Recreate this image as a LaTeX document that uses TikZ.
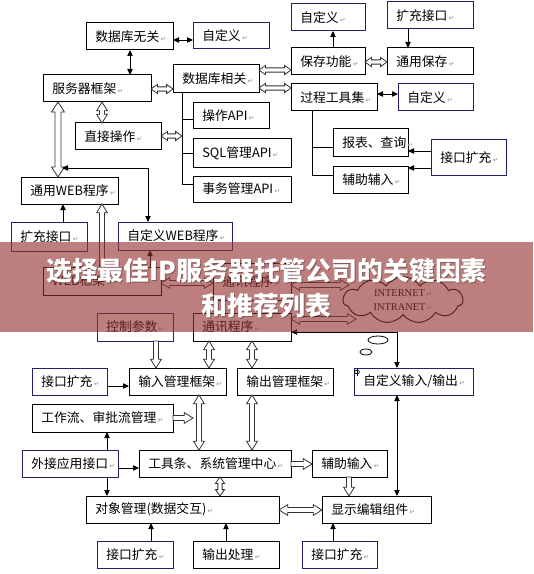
\documentclass[tikz,border=0pt]{standalone}
\usepackage{fontspec}
\setmainfont{Liberation Serif}
\newfontfamily\cjk{Noto Sans CJK SC}
\newfontfamily\dejavu{DejaVu Sans}
\usetikzlibrary{arrows.meta,calc,shapes.symbols}
\definecolor{navy}{RGB}{32,32,112}
\definecolor{band}{RGB}{150,50,48}
\newcommand\rmk{\hspace{1pt}{\dejavu\fontsize{5}{6}\selectfont\color{black!45}↵}}
\newcommand\mkbox[7][]{%
  \pgfmathsetmacro\bw{(#5-#3)*0.75-14}%
  \pgfmathsetmacro\bh{(#6-#4)*0.75}%
  \node[bxs,#1,text width=\bw pt,minimum height=\bh pt,anchor=north west] (#2) at (#3,#4) {\mbox{#7\rmk}};}
\newcommand\hsetS{\def\hs{1.6pt}\def\hh{3.4pt}\def\hl{4.8pt}}
\newcommand\hsetM{\def\hs{1.9pt}\def\hh{4.0pt}\def\hl{6.5pt}}
\newcommand\hsetL{\def\hs{2.3pt}\def\hh{4.8pt}\def\hl{7.5pt}}
\hsetM
\newcommand\hollowBoth[2]{%
  \filldraw[hol] (#1) -- ($(#1)!\hl!(#2)!\hh!90:(#2)$) -- ($(#1)!\hl!(#2)!\hs!90:(#2)$)
   -- ($(#2)!\hl!(#1)!\hs!-90:(#1)$) -- ($(#2)!\hl!(#1)!\hh!-90:(#1)$) -- (#2)
   -- ($(#2)!\hl!(#1)!\hh!90:(#1)$) -- ($(#2)!\hl!(#1)!\hs!90:(#1)$)
   -- ($(#1)!\hl!(#2)!\hs!-90:(#2)$) -- ($(#1)!\hl!(#2)!\hh!-90:(#2)$) -- cycle;}
\newcommand\hollowOne[2]{%
  \filldraw[hol] ($(#1)!\hs!90:(#2)$) -- ($(#2)!\hl!(#1)!\hs!-90:(#1)$)
   -- ($(#2)!\hl!(#1)!\hh!-90:(#1)$) -- (#2) -- ($(#2)!\hl!(#1)!\hh!90:(#1)$)
   -- ($(#2)!\hl!(#1)!\hs!90:(#1)$) -- ($(#1)!\hs!-90:(#2)$) -- cycle;}
\begin{document}
\begin{tikzpicture}[x=0.75pt,y=-0.75pt,
  bxs/.style={draw,line width=0.75pt,fill=white,inner xsep=7pt,inner ysep=0pt,outer sep=0pt,
    align=left,font=\cjk\fontsize{9.6}{11}\selectfont},
  blu/.style={draw=navy},
  ln/.style={line width=0.7pt},
  ar/.style={ln,-{Triangle[length=4.5pt,width=4pt]}},
  dar/.style={ln,{Triangle[length=4.5pt,width=4pt]}-{Triangle[length=4.5pt,width=4pt]}},
  hol/.style={draw=black!80,fill=white,line width=0.6pt,line join=miter}]
\fill[white] (0,0) rectangle (533,574);
\useasboundingbox (0,0) rectangle (533,574);

% ---- boxes, top part
\mkbox{dbwg}{86}{23}{173}{50}{数据库无关}
\mkbox[blu]{zdy1}{193}{23}{269}{49}{自定义}
\mkbox{fwk}{43}{75}{151}{102}{服务器框架}
\mkbox{dbxg}{173}{65}{259}{93}{数据库相关}
\mkbox{zjcz}{75}{123}{161}{150}{直接操作}
\mkbox{czapi}{193}{103}{269}{129}{操作API}
\mkbox{sqlapi}{193}{139}{291}{167}{SQL管理API}
\mkbox{swapi}{193}{176}{291}{202}{事务管理API}
\mkbox{tyweb}{21}{177}{118}{204}{通用WEB程序}
\mkbox[blu]{kcjk1}{11}{222}{87}{251}{扩充接口}
\mkbox[blu]{zdyweb}{118}{222}{232}{250}{自定义WEB程序}
\mkbox[blu]{zdy2}{291}{4}{365}{31}{自定义}
\mkbox[blu]{kcjk2}{387}{2}{473}{29}{扩充接口}
\mkbox{bcgn}{291}{48}{365}{75}{保存功能}
\mkbox{tybc}{387}{48}{473}{75}{通用保存}
\mkbox{gcgj}{291}{84}{377}{111}{过程工具集}
\mkbox[blu]{zdy3}{398}{84}{473}{111}{自定义}
\mkbox{bbcx}{333}{129}{408}{157}{报表、查询}
\mkbox{fzfr}{333}{166}{408}{193}{辅助辅入}
\mkbox[blu]{jkkc1}{431}{140}{506}{175}{接口扩充}
% ---- middle
\mkbox{webkj}{43}{267}{161}{295}{WEB框架}
\mkbox{txcx1}{213}{263}{291}{300}{通讯程序}
\node[cloud,draw,line width=0.7pt,cloud puffs=11,cloud puff arc=115,cloud ignores aspect,
  minimum width=90pt,minimum height=35pt,align=center,font=\fontsize{7.8}{11}\selectfont,inner sep=0pt]
  (cloud) at (403,300) {INTERNET\rmk\\INTRANET\rmk};
\mkbox[blu]{kzcs}{97}{313}{173}{341}{控制参数}
\mkbox{txcx2}{193}{313}{291}{341}{通讯程序}
% ---- lower
\mkbox[blu]{jkkc2}{32}{368}{107}{395}{接口扩充}
\mkbox{srgl}{129}{368}{226}{395}{输入管理框架}
\mkbox{scgl}{237}{368}{333}{395}{输出管理框架}
\mkbox[blu]{zdyio}{354}{368}{473}{395}{自定义输入/输出}
\mkbox{gzl}{32}{404}{173}{432}{工作流、审批流管理}
\mkbox[blu]{wjyy}{22}{450}{118}{477}{外接应用接口}
\mkbox{gjt}{139}{450}{291}{477}{工具条、系统管理中心}
\mkbox{fzsr}{312}{450}{387}{477}{辅助输入}
\mkbox{dxgl}{86}{496}{279}{523}{对象管理(数据交互)}
\mkbox{xsbj}{322}{496}{431}{523}{显示编辑组件}
\mkbox[blu]{jkkc3}{97}{541}{173}{568}{接口扩充}
\mkbox{sccl}{193}{541}{279}{568}{输出处理}
\mkbox[blu]{jkkc4}{302}{541}{377}{568}{接口扩充}

% ---- connectors, top
\draw[dar] (dbwg.east |- 0,40) -- (zdy1.west |- 0,40);
\draw[dar] (130,0 |- dbwg.south) -- (130,0 |- fwk.north);
\hsetS
\hollowBoth{fwk.east |- 0,89}{dbxg.west |- 0,89}
\hollowBoth{zjcz.east |- 0,136}{182,136}
\hollowBoth{dbxg.east |- 0,70}{bcgn.west |- 0,70}
\hollowBoth{dbxg.east |- 0,88}{gcgj.west |- 0,88}
\hollowBoth{bcgn.east |- 0,62}{tybc.west |- 0,62}
\hsetM
\hollowBoth{102,0 |- fwk.south}{102,0 |- zjcz.north}
\draw[ln] (182,0 |- dbxg.south) -- (182,184);
\draw[ln] (182,119) -- (czapi.west |- 0,119);
\draw[ln] (182,153) -- (sqlapi.west |- 0,153);
\draw[ln] (182,184) -- (swapi.west |- 0,184);
\draw[ar] (333,0 |- bcgn.north) -- (333,0 |- zdy2.south);
\draw[ar] (408,0 |- kcjk2.south) -- (408,0 |- tybc.north);
\draw[dar] (gcgj.east |- 0,94) -- (zdy3.west |- 0,94);
\draw[ln] (312,0 |- gcgj.south) -- (312,175);
\draw[ln] (312,147) -- (bbcx.west |- 0,147);
\draw[ln] (312,175) -- (fzfr.west |- 0,175);
\draw[ar] (jkkc1.west |- 0,151) -- (bbcx.east |- 0,151);
\draw[ar] (jkkc1.west |- 0,168) -- (fzfr.east |- 0,168);

% ---- connectors, left / middle
\hsetL
\hollowBoth{58,0 |- fwk.south}{58,0 |- tyweb.north}
\hsetM
\coordinate (wtip) at (62,168);
\draw[dar] (148,0 |- zdyweb.north) -- (148,168) -- (wtip);
\draw[ar] (63,0 |- kcjk1.north) -- (63,0 |- tyweb.south);
\hollowOne{102,0 |- webkj.north}{102,0 |- tyweb.south}
\draw[ar] (150,0 |- webkj.north) -- (150,0 |- zdyweb.south);
\hollowBoth{webkj.east |- 0,283}{txcx1.west |- 0,283}
\coordinate (cl1) at (349,285);
\coordinate (cl2) at (356,319);
\hollowBoth{txcx1.east |- 0,285}{cl1}
\hollowBoth{txcx2.east |- 0,319}{cl2}
\draw[dar] (txcx2.east |- 0,332) -- (397,332) -- (397,0 |- zdyio.north);
\draw[line width=0.6pt] (378,340) ellipse [x radius=10, y radius=4];
\draw[line width=0.6pt] (366,352) ellipse [x radius=6, y radius=3];
\draw[line width=0.5pt] (357,372) ellipse [x radius=2.5, y radius=1.8];
\draw[line width=0.5pt] (357,368) -- (357,376);

% ---- connectors, lower
\hollowOne{156,0 |- kzcs.south}{156,0 |- srgl.north}
\hollowBoth{209,0 |- txcx2.south}{209,0 |- srgl.north}
\hollowBoth{252,0 |- txcx2.south}{252,0 |- scgl.north}
\draw[ar] (jkkc2.east |- 0,386) -- (srgl.west |- 0,386);
\hollowOne{gzl.east |- 0,418}{193,418}
\hollowBoth{199,0 |- srgl.south}{199,0 |- gjt.north}
\hollowBoth{252,0 |- scgl.south}{252,0 |- gjt.north}
\draw[ar] (107,0 |- wjyy.north) -- (107,0 |- gzl.south);
\draw[ar] (wjyy.east |- 0,468) -- (gjt.west |- 0,468);
\draw[ar] (107,0 |- wjyy.south) -- (107,0 |- dxgl.north);
\hollowOne{gjt.east |- 0,464}{fzsr.west |- 0,464}
\hollowOne{349,0 |- fzsr.south}{349,0 |- xsbj.north}
\draw[dar] (397,0 |- zdyio.south) -- (397,0 |- xsbj.north);
\hsetS
\hollowBoth{220,0 |- gjt.south}{220,0 |- dxgl.north}
\hsetM
\hollowBoth{dxgl.east |- 0,510}{xsbj.west |- 0,510}
\draw[ar] (151,0 |- jkkc3.north) -- (151,0 |- dxgl.south);
\draw[ar] (226,0 |- sccl.north) -- (226,0 |- dxgl.south);
\draw[ar] (333,0 |- jkkc4.north) -- (333,0 |- xsbj.south);

% ---- title band
\fill[band,fill opacity=0.62] (0,242) rectangle (533,332);
\node[align=center,text=black,opacity=0.3,font=\cjk\bfseries\fontsize{19.4}{26}\selectfont]
  at (267.5,289.5) {选择最佳IP服务器托管公司的关键因素\\和推荐列表};
\node[align=center,text=white,font=\cjk\bfseries\fontsize{19.4}{26}\selectfont]
  (title) at (266.5,288.5) {选择最佳IP服务器托管公司的关键因素\\和推荐列表};
\end{tikzpicture}
\end{document}
